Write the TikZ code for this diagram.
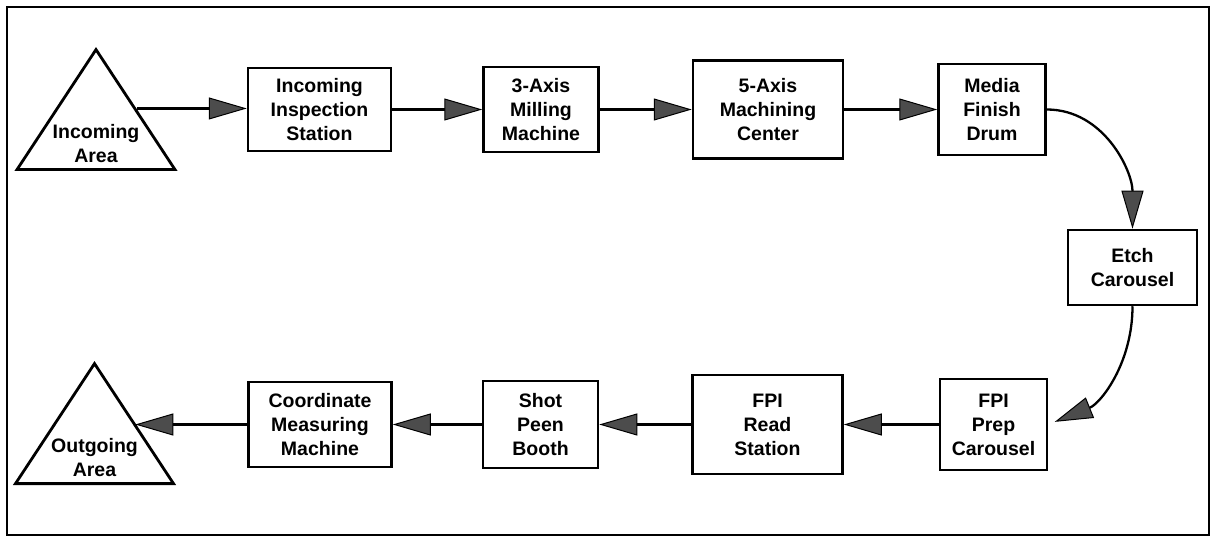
\documentclass[tikz,border=0pt]{standalone}
\usepackage{fontspec}
\setmainfont{Liberation Sans}
\usepackage{tikz}
\usetikzlibrary{arrows.meta,positioning,shapes.geometric}
\newcommand{\areatext}[1]{\raisebox{-24pt}[0pt][0pt]{\makebox[0pt]{\begin{tabular}{@{}c@{}}#1\end{tabular}}}}
\tikzset{
	station/.style={
		draw, rectangle, line width=2.5pt, align=center,
		inner sep=0pt, text=black,
		font=\bfseries\fontsize{19.5}{24}\selectfont
	},
	area/.style={
		draw, isosceles triangle, shape border rotate=90,
		isosceles triangle stretches, line width=2.8pt,
		minimum width=158pt, minimum height=120pt,
		inner sep=0pt, anchor=lower side,
		font=\bfseries\fontsize{19.5}{24}\selectfont
	},
	flow/.style={line width=2.3pt,
		-{Triangle[length=38pt,width=22pt,fill=black!70,line width=1pt]}}
}
\begin{document}
\begin{tikzpicture}[x=1pt,y=-1pt]
	\useasboundingbox (0,0) rectangle (1211,537);
	\draw[line width=1.5pt] (7,7) rectangle (1209,535);
	% top row
	\node[area] (inarea) at (96,171) {\areatext{Incoming\\Area}};
	\node[station, minimum width=143pt, minimum height=83pt] (insp) at (319.5,109.5) {Incoming\\Inspection\\Station};
	\node[station, minimum width=115pt, minimum height=85pt] (mill) [right=90pt of insp] {3-Axis\\Milling\\Machine};
	\node[station, minimum width=150pt, minimum height=98pt] (five) [right=92pt of mill] {5-Axis\\Machining\\Center};
	\node[station, minimum width=107pt, minimum height=91pt] (media) [right=93pt of five] {Media\\Finish\\Drum};
	\node[station, minimum width=129pt, minimum height=75pt] (etch) at (1132.5,267.5) {Etch\\Carousel};
	% bottom row
	\node[station, minimum width=107pt, minimum height=91pt] (prep) at (993.5,424.5) {FPI\\Prep\\Carousel};
	\node[station, minimum width=150pt, minimum height=99pt] (read) [left=95pt of prep] {FPI\\Read\\Station};
	\node[station, minimum width=115pt, minimum height=87pt] (shot) [left=92pt of read] {Shot\\Peen\\Booth};
	\node[station, minimum width=143pt, minimum height=85pt] (cmm) [left=89pt of shot] {Coordinate\\Measuring\\Machine};
	\node[area] (outarea) at (94.5,485) {\areatext{Outgoing\\Area}};
	\draw[flow] (inarea.right side) -- (inarea.right side -| insp.west);
	\draw[flow] (insp) -- (mill);
	\draw[flow] (mill) -- (five);
	\draw[flow] (five) -- (media);
	\draw[flow] (media.east) to[out=0, in=90] (etch.north);
	\draw[flow, shorten >=7pt] (etch.south) to[out=-90, in=22] (prep.east);
	\draw[flow] (prep) -- (read);
	\draw[flow] (read) -- (shot);
	\draw[flow] (shot) -- (cmm);
	\draw[flow] (cmm.west) -- (cmm.west -| outarea.right side);
\end{tikzpicture}
\end{document}
